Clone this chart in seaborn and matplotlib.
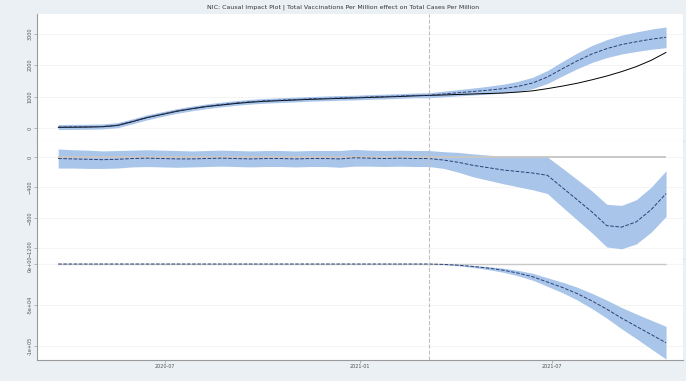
import pandas as pd
import matplotlib.pyplot as plt
import matplotlib.dates as mdates
import seaborn as sns

# biweekly sampling of the series
dates = pd.date_range("2020-03-22", periods=42, freq="14D")
intervention = pd.Timestamp("2021-03-07")

observed = [20, 25, 30, 40, 80, 200, 330, 430, 530, 610, 680, 730, 780, 820,
            850, 870, 890, 910, 925, 940, 955, 970, 985, 1000, 1020, 1035,
            1050, 1065, 1080, 1095, 1110, 1140, 1180, 1250, 1330, 1420, 1530,
            1650, 1790, 1950, 2150, 2400]
predicted = [30, 35, 40, 50, 90, 210, 340, 440, 540, 620, 690, 745, 795, 835,
             865, 885, 905, 925, 940, 955, 965, 985, 1000, 1015, 1035, 1040,
             1080, 1120, 1160, 1200, 1250, 1320, 1430, 1620, 1880, 2130, 2350,
             2520, 2650, 2740, 2820, 2880]
predicted_half = [80, 80, 80, 80, 80, 80, 80, 75, 75, 75, 75, 75, 75, 75,
                  75, 75, 75, 75, 75, 75, 75, 75, 75, 75, 75, 80,
                  90, 100, 110, 125, 140, 160, 180, 205, 230, 250, 270,
                  285, 300, 310, 320, 330]

point_effect = [-20, -25, -30, -35, -30, -20, -15, -20, -25, -25, -20, -15,
                -20, -25, -20, -20, -25, -20, -20, -25, -10, -15, -20, -15,
                -20, -20, -40, -70, -110, -140, -170, -190, -210, -240, -400,
                -560, -720, -900, -920, -850, -690, -480]
point_half = [125, 120, 120, 115, 115, 110, 110, 110, 110, 105, 105, 105,
              105, 105, 105, 105, 105, 105, 105, 110, 110, 105, 105, 105,
              105, 105, 110, 130, 150, 165, 180, 200, 220, 240, 255, 265,
              275, 280, 285, 290, 295, 300]

cum_effect = [0] * 26 + [-500, -1500, -3000, -5000, -7500, -11000, -15500,
                         -22000, -28500, -36000, -45000, -55000, -66000,
                         -76000, -86000, -96000]
cum_half = [0] * 26 + [300, 700, 1200, 1800, 2500, 3300, 4200, 5200, 6400,
                       7800, 9300, 11000, 13000, 15000, 17500, 20000]

df = pd.DataFrame({"date": dates, "observed": observed, "predicted": predicted,
                   "pred_half": predicted_half, "point": point_effect,
                   "point_half": point_half, "cum": cum_effect, "cum_half": cum_half})

sns.set_style("white")
band = "#a9c6ea"
dash = "#2c3f73"

fig, axes = plt.subplots(3, 1, figsize=(6.86, 3.81), dpi=100, sharex=True,
                         gridspec_kw={"height_ratios": [127, 118, 101], "hspace": 0})
fig.patch.set_facecolor("#eaf0f3")
fig.subplots_adjust(left=37 / 686, right=683 / 686, top=1 - 14 / 381, bottom=1 - 360 / 381)

ax1, ax2, ax3 = axes
start, end = df["date"].min(), df["date"].max()

# top: observed vs predicted
ax1.fill_between(df["date"], df["predicted"] - df["pred_half"], df["predicted"] + df["pred_half"],
                 color=band, lw=0)
sns.lineplot(data=df, x="date", y="observed", ax=ax1, color="black", lw=0.7)
sns.lineplot(data=df, x="date", y="predicted", ax=ax1, color=dash, lw=0.7, linestyle="--")
ax1.set_ylim(-413, 3620)
ax1.set_yticks([0, 1000, 2000, 3000])

# middle: pointwise effect
ax2.hlines(0, start, end, color="#c8c8c8", lw=1.4)
ax2.fill_between(df["date"], df["point"] - df["point_half"], df["point"] + df["point_half"],
                 color=band, lw=0)
sns.lineplot(data=df, x="date", y="point", ax=ax2, color=dash, lw=0.7, linestyle="--")
ax2.set_ylim(-1338, 210)
ax2.set_yticks([0, -400, -800, -1200])

# bottom: cumulative effect
ax3.hlines(0, start, end, color="#c8c8c8", lw=1.0)
ax3.fill_between(df["date"], df["cum"] - df["cum_half"], df["cum"] + df["cum_half"],
                 color=band, lw=0)
sns.lineplot(data=df, x="date", y="cum", ax=ax3, color=dash, lw=0.7, linestyle="--")
ax3.set_ylim(-117000, 6100)
ax3.set_yticks([0, -50000, -100000])
ax3.set_yticklabels(["0e+00", "-5e+04", "-1e+05"])

for ax in axes:
    ax.set_facecolor("white")
    ax.axvline(intervention, color="#c0c0c0", lw=0.8, linestyle="--")
    ax.set_xlabel("")
    ax.set_ylabel("")
    ax.grid(axis="y", color="#f0f0f0", lw=0.5)
    for s in ["top", "right"]:
        ax.spines[s].set_visible(False)
    ax.spines["left"].set_color("#9a9a9a")
    ax.spines["bottom"].set_color("#cfcfcf")
    ax.tick_params(axis="y", labelsize=3.5, length=2, width=0.5, colors="#9a9a9a",
                   labelcolor="#555555", pad=1, left=True)
    for lab in ax.get_yticklabels():
        lab.set_rotation(90)
        lab.set_va("center")

ax3.spines["bottom"].set_color("#9a9a9a")
ax3.set_xlim(pd.Timestamp("2020-03-02"), pd.Timestamp("2021-11-02"))
ax3.set_xticks(pd.to_datetime(["2020-07-01", "2021-01-01", "2021-07-01"]))
ax3.xaxis.set_major_formatter(mdates.DateFormatter("%Y-%m"))
ax3.tick_params(axis="x", labelsize=3.5, length=2, width=0.5, colors="#9a9a9a",
                labelcolor="#555555", pad=1, bottom=True)

fig.suptitle("NIC: Causal Impact Plot | Total Vaccinations Per Million effect on Total Cases Per Million",
             fontsize=4.5, color="#333333", y=1 - 7 / 381, va="center")

plt.savefig("out.png", dpi=100, facecolor=fig.get_facecolor())
